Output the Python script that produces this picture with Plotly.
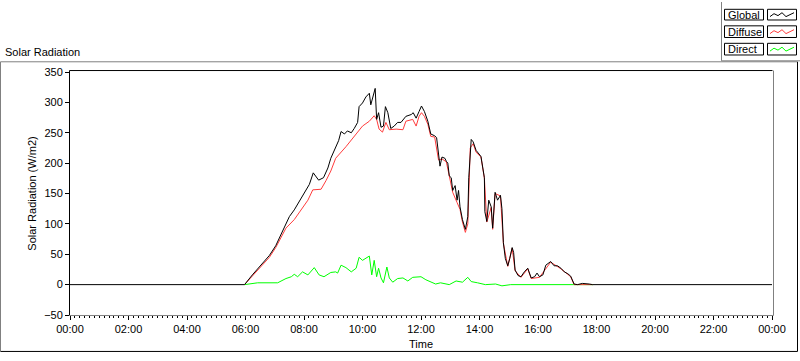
import plotly.graph_objects as go

DAY = "2024-01-01 "
NEXT = "2024-01-02 "

global_times = ["00:00", "05:58", "06:14", "06:32", "06:49", "07:02", "07:13", "07:23", "07:30", "07:40",
                "07:50", "08:01", "08:11", "08:19", "08:25", "08:30", "08:40", "08:49", "08:55", "09:02",
                "09:11", "09:16", "09:23", "09:29", "09:37", "09:43", "09:50", "09:53", "10:00", "10:07",
                "10:14", "10:17", "10:22", "10:26", "10:29", "10:33", "10:38", "10:43", "10:47", "10:52",
                "10:58", "11:05", "11:12", "11:19", "11:29", "11:40", "11:44", "11:50", "11:56", "12:01",
                "12:07", "12:14", "12:20", "12:28", "12:32", "12:36", "12:39", "12:43", "12:49", "12:52",
                "12:55", "12:58", "13:02", "13:05", "13:10", "13:14", "13:17", "13:20", "13:25", "13:31",
                "13:36", "13:38", "13:41", "13:43", "13:47", "13:53", "14:03", "14:10", "14:11", "14:15",
                "14:19", "14:24", "14:27", "14:32", "14:37", "14:43", "14:46", "14:49", "14:53", "14:58",
                "15:02", "15:07", "15:10", "15:13", "15:19", "15:25", "15:32", "15:39", "15:46", "15:53",
                "15:58", "16:03", "16:10", "16:16", "16:26", "16:33", "16:40", "16:47", "16:54", "17:01",
                "17:07", "17:14", "17:21", "17:31", "17:45", "17:52"]
global_vals = [0, 0, 16, 32, 48, 64, 83, 101, 112, 123,
               136, 152, 165, 184, 178, 172, 176, 192, 208, 221,
               237, 252, 248, 253, 250, 257, 267, 293, 299, 309,
               315, 296, 309, 323, 272, 283, 259, 261, 293, 283,
               257, 261, 267, 267, 277, 280, 283, 274, 285, 294,
               285, 269, 248, 245, 242, 208, 195, 210, 208, 203,
               200, 179, 176, 155, 163, 139, 155, 128, 107, 91,
               112, 176, 229, 239, 235, 221, 211, 176, 120, 104,
               139, 128, 93, 152, 139, 147, 125, 69, 43, 31,
               43, 61, 53, 24, 15, 13, 21, 27, 11, 13,
               19, 13, 16, 32, 38, 31, 31, 27, 21, 18,
               14, 1, 0, 2, 1, 0]

diffuse_times = ["05:58", "06:14", "06:32", "06:49", "07:02", "07:13", "07:23", "07:40", "07:54", "08:08",
                 "08:18", "08:35", "08:45", "08:55", "09:05", "09:26", "09:47", "10:00", "10:14", "10:24",
                 "10:29", "10:34", "10:41", "10:48", "10:55", "11:09", "11:23", "11:29", "11:43", "11:50",
                 "11:56", "12:01", "12:07", "12:14", "12:20", "12:28", "12:36", "12:43", "12:52", "12:58",
                 "13:05", "13:14", "13:20", "13:25", "13:31", "13:36", "13:38", "13:41", "13:47", "13:53",
                 "14:03", "14:10", "14:15", "14:24", "14:27", "14:32", "14:43", "14:49", "14:58", "15:07",
                 "15:13", "15:25", "15:39", "15:46", "16:03", "16:26", "16:47", "17:07", "17:14", "17:52"]
diffuse_vals = [0, 14, 29, 45, 61, 78, 93, 107, 123, 139,
                156, 157, 171, 187, 208, 227, 248, 261, 269, 278,
                272, 256, 251, 267, 255, 256, 255, 269, 272, 261,
                277, 283, 277, 264, 244, 243, 205, 207, 202, 178,
                152, 135, 124, 103, 86, 100, 172, 225, 232, 218,
                210, 175, 103, 127, 91, 150, 146, 68, 30, 60,
                23, 12, 26, 10, 12, 37, 26, 13, 0, 0]

direct_times = ["05:58", "06:25", "07:06", "07:23", "07:34", "07:40", "07:47", "07:57", "08:08", "08:21",
                "08:31", "08:41", "08:55", "09:05", "09:09", "09:16", "09:26", "09:37", "09:47", "09:53",
                "10:00", "10:07", "10:14", "10:19", "10:24", "10:29", "10:33", "10:38", "10:43", "10:50",
                "10:55", "11:02", "11:12", "11:23", "11:33", "11:43", "11:56", "12:00", "12:10", "12:20",
                "12:30", "12:40", "12:52", "12:58", "13:12", "13:25", "13:36", "13:43", "13:56", "14:12",
                "14:33", "14:46", "15:04", "17:53"]
direct_vals = [0, 3, 3, 10, 13, 17, 13, 21, 16, 28,
               16, 13, 20, 21, 19, 32, 28, 21, 27, 45,
               40, 44, 47, 16, 40, 13, 27, 11, 3, 29,
               11, 4, 10, 11, 6, 12, 13, 13, 8, 5,
               1, 3, 1, 0, 6, 4, 12, 5, 3, 0,
               1, -2, 0, 0]

y_ticks = [-50, 0, 50, 100, 150, 200, 250, 300, 350]


def ts(t_list):
    return [DAY + t for t in t_list]


g_x = ts(global_times) + [NEXT + "00:00"]
g_y = global_vals + [0]

fig = go.Figure()
fig.add_trace(go.Scatter(x=ts(direct_times), y=direct_vals, mode="lines",
                         line=dict(color="#00ff00", width=1), name="Direct"))
fig.add_trace(go.Scatter(x=ts(diffuse_times), y=diffuse_vals, mode="lines",
                         line=dict(color="#ff3c3c", width=1), name="Diffuse"))
fig.add_trace(go.Scatter(x=g_x, y=g_y, mode="lines",
                         line=dict(color="#000000", width=1), name="Global"))

L, R, T, B = 70, 772, 72, 322
W, H = 800, 361


def PX(px):
    return (px - L) / (R - L)


def PY(py):
    return (B - py) / (B - T)


shapes = []


def line(x0, y0, x1, y1, color, width=1):
    shapes.append(dict(type="line", xref="paper", yref="paper",
                       x0=PX(x0), y0=PY(y0), x1=PX(x1), y1=PY(y1),
                       line=dict(color=color, width=width)))


def rect(x0, y0, x1, y1, color, fill=None):
    shapes.append(dict(type="rect", xref="paper", yref="paper",
                       x0=PX(x0), y0=PY(y0), x1=PX(x1), y1=PY(y1),
                       line=dict(color=color, width=1),
                       fillcolor=fill if fill else "rgba(0,0,0,0)"))


# outer frame
line(0.5, 61.5, 797.5, 61.5, "#808080")
line(0.5, 61.5, 0.5, 359.5, "#808080")
line(0.5, 359.5, 797.5, 359.5, "#000000")
line(797.5, 61.5, 797.5, 359.5, "#000000")
# plot frame
line(69.5, 70.5, 772.5, 70.5, "#000000")
line(69.5, 70.5, 69.5, 322.5, "#000000")
line(69.5, 322.5, 773.5, 322.5, "#808080")
line(773.5, 70.5, 773.5, 322.5, "#808080")

# legend panel
line(721.5, 0, 721.5, 60.5, "#808080")
line(721.5, 60.5, 800, 60.5, "#808080")

legend_rows = [("Global", "#000000", 7.5, 18.5),
               ("Diffuse", "#ff3c3c", 24.5, 36.5),
               ("Direct", "#00ff00", 42.5, 54.5)]
annotations = []
for name, col, y0, y1 in legend_rows:
    rect(724.5, y0, 763.5, y1, "#000000", "#ffffff")
    rect(767.5, y0, 796.5, y1, "#000000", "#ffffff")
    ym = (y0 + y1) / 2
    pts = [(770, ym + 2), (774, ym - 1), (778, ym + 1), (782, ym - 2), (786, ym + 2), (790, ym), (794, ym - 2)]
    path = "M " + " L ".join(f"{PX(px)},{PY(py)}" for px, py in pts)
    shapes.append(dict(type="path", xref="paper", yref="paper", path=path,
                       line=dict(color=col, width=1)))
    annotations.append(dict(text=name, xref="paper", yref="paper", x=PX(726), y=PY(ym),
                            xanchor="left", yanchor="middle", showarrow=False,
                            font=dict(size=11, color="#000000")))

annotations.append(dict(text="Solar Radiation", xref="paper", yref="paper", x=PX(3), y=PY(51),
                        xanchor="left", yanchor="middle", showarrow=False,
                        font=dict(size=11, color="#000000")))

fig.update_layout(
    width=W, height=H,
    margin=dict(l=L, r=W - R, t=T, b=H - B),
    paper_bgcolor="#ffffff", plot_bgcolor="#ffffff",
    showlegend=False,
    font=dict(family="Liberation Sans, Arial, sans-serif", size=11, color="#000000"),
    shapes=shapes, annotations=annotations,
    xaxis=dict(type="date", range=[DAY + "00:00", NEXT + "00:00"],
               dtick=7200000, tick0=DAY + "00:00", tickformat="%H:%M",
               ticks="outside", ticklen=4, tickcolor="#000000",
               showgrid=False, zeroline=False, showline=False,
               minor=dict(dtick=600000, ticks="outside", ticklen=2, tickcolor="#000000", showgrid=False),
               title=dict(text="Time", standoff=6, font=dict(size=11))),
    yaxis=dict(range=[-50, 350], tickvals=y_ticks, ticks="outside", ticklen=4, tickcolor="#000000",
               showgrid=False, zeroline=False, showline=False,
               title=dict(text="Solar Radiation (W/m2)", standoff=5, font=dict(size=11))),
)

fig.write_html("out.html",
               config={"displayModeBar": False},
               post_script="document.body.style.margin='0';document.body.style.padding='0';"
                           "document.body.style.overflow='hidden';")
